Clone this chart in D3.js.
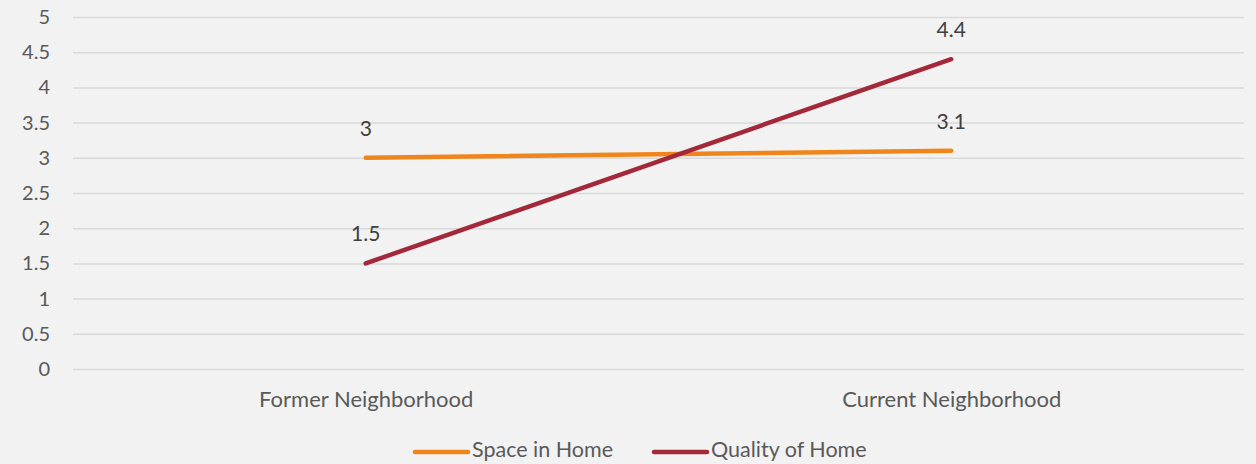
<!DOCTYPE html>
<html>
<head>
<meta charset="utf-8">
<script src="https://cdn.jsdelivr.net/npm/d3@7"></script>
<style>
  body { margin: 0; background: #f2f2f2; }
  svg { display: block; font-family: Lato, "Open Sans", sans-serif; }
</style>
</head>
<body>
<svg id="chart" width="1256" height="464"></svg>
<script>
const categories = ["Former Neighborhood", "Current Neighborhood"];
const spaceInHome = [3, 3.1];
const qualityOfHome = [1.5, 4.4];
const yTicks = [0, 0.5, 1, 1.5, 2, 2.5, 3, 3.5, 4, 4.5, 5];

const series = [
  { name: "Space in Home", values: spaceInHome, color: "#f0861b" },
  { name: "Quality of Home", values: qualityOfHome, color: "#a3283a" }
];

const svg = d3.select("#chart");
const W = 1256, H = 464;
const margin = { top: 17, right: 12, bottom: 95, left: 73 };
const chartWidth = W - margin.left - margin.right;
const chartHeight = H - margin.top - margin.bottom;
const fontSize = "22px";

svg.append("rect").attr("width", W).attr("height", H).attr("fill", "#f2f2f2");

const x = d3.scalePoint().domain(categories).range([0, chartWidth]).padding(0.5);
const y = d3.scaleLinear().domain([0, 5]).range([chartHeight, 0]);

const g = svg.append("g").attr("transform", `translate(${margin.left},${margin.top})`);

// Gridlines
g.append("g")
  .call(d3.axisLeft(y).tickValues(yTicks).tickSize(-chartWidth).tickFormat(""))
  .call((a) => a.select(".domain").remove())
  .selectAll("line")
  .attr("stroke", "#d9d9d9")
  .attr("stroke-width", 1.5);

// Y labels
g.append("g")
  .call(d3.axisLeft(y).tickValues(yTicks).tickSize(0).tickPadding(23).tickFormat(d3.format("")))
  .call((a) => a.select(".domain").remove())
  .selectAll("text")
  .attr("fill", "#595959")
  .style("font-size", "20px")
  .style("font-family", "Lato, sans-serif");

// X labels
g.append("g")
  .attr("transform", `translate(0,${chartHeight})`)
  .call(d3.axisBottom(x).tickSize(0).tickPadding(22))
  .call((a) => a.select(".domain").remove())
  .selectAll("text")
  .attr("fill", "#595959")
  .style("font-size", fontSize)
  .style("font-family", "Lato, sans-serif");

const lineGen = d3.line()
  .x((d, i) => x(categories[i]))
  .y((d) => y(d));

g.selectAll(".line")
  .data(series)
  .join("path")
  .attr("class", "line")
  .attr("d", (d) => lineGen(d.values))
  .attr("fill", "none")
  .attr("stroke", (d) => d.color)
  .attr("stroke-width", 4.5)
  .attr("stroke-linecap", "round");

// Data labels
const labels = series.flatMap((s) => s.values.map((v, i) => ({ v, cat: categories[i] })));
g.selectAll(".dlabel")
  .data(labels)
  .join("text")
  .attr("class", "dlabel")
  .attr("x", (d) => x(d.cat))
  .attr("y", (d) => y(d.v) - 22)
  .attr("text-anchor", "middle")
  .attr("fill", "#404040")
  .style("font-size", "21px")
  .text((d) => d.v);

// Legend
const legend = svg.append("g").attr("transform", `translate(413,452)`);
const items = legend.selectAll("g")
  .data(series)
  .join("g")
  .attr("transform", (d, i) => `translate(${i * 239},0)`);
items.append("line")
  .attr("x1", 2).attr("x2", 55)
  .attr("stroke", (d) => d.color)
  .attr("stroke-width", 4.5)
  .attr("stroke-linecap", "round");
items.append("text")
  .attr("x", 59)
  .attr("y", 5)
  .attr("fill", "#595959")
  .style("font-size", "21.5px")
  .text((d) => d.name);
</script>
</body>
</html>
